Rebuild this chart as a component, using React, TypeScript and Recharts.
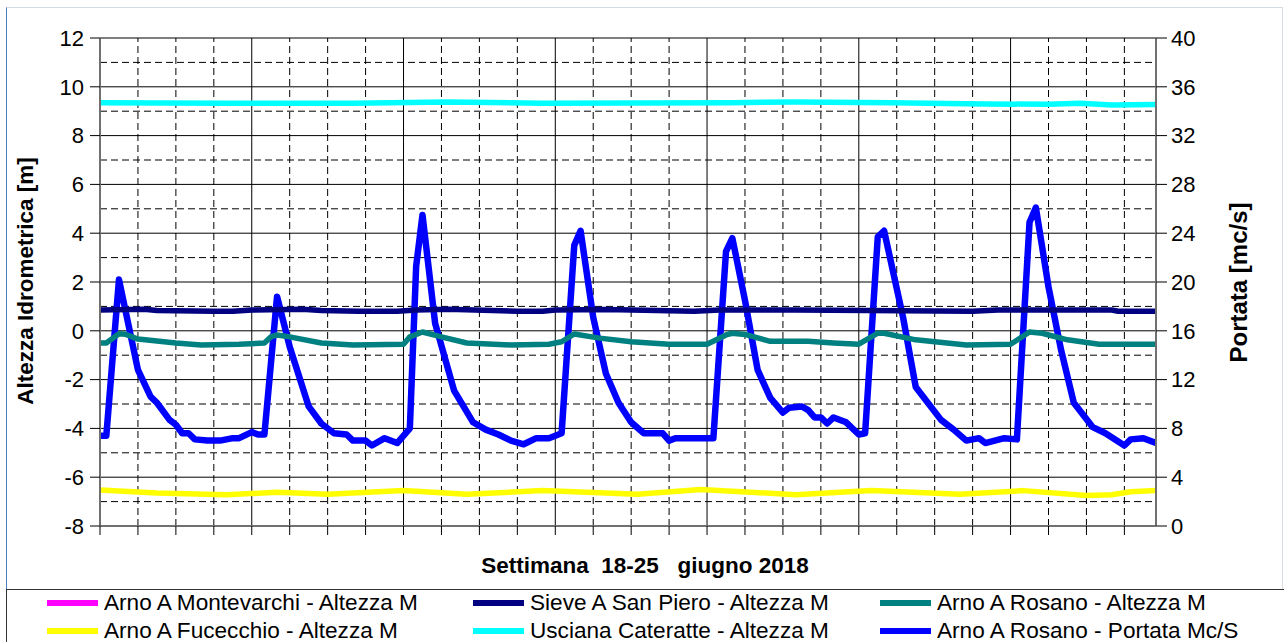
import React from 'react';
import { ComposedChart, Line, XAxis, YAxis, ReferenceLine } from 'recharts';

// ---- Data (hour of the week 0..167) ----
const portataHours = [0, 1, 3, 6, 8, 9, 11, 12, 13, 14, 15, 17, 19, 21, 22, 24, 25, 26, 28, 30, 33, 35, 37, 39, 40, 42, 43, 45, 47, 49, 50, 51, 53, 56, 59, 61, 63, 65, 67, 69, 71, 73, 75, 76, 78, 80, 82, 84, 86, 89, 90, 91, 97, 99, 100, 102, 104, 106, 108, 109, 111, 112, 113, 114, 115, 116, 118, 120, 121, 123, 124, 127, 129, 133, 135, 137, 139, 140, 143, 145, 147, 148, 150, 152, 154, 157, 159, 162, 163, 165, 167];
const portataValues = [7.4, 7.4, 20.2, 12.8, 10.6, 10.1, 8.7, 8.3, 7.6, 7.6, 7.1, 7.0, 7.0, 7.2, 7.2, 7.7, 7.5, 7.5, 18.8, 14.7, 9.8, 8.4, 7.6, 7.5, 7.0, 7.0, 6.6, 7.2, 6.8, 8.0, 21.3, 25.5, 16.6, 11.1, 8.5, 7.9, 7.5, 7.0, 6.7, 7.2, 7.2, 7.6, 23.0, 24.2, 17.1, 12.5, 10.1, 8.5, 7.6, 7.6, 7.0, 7.2, 7.2, 22.5, 23.6, 18.5, 12.8, 10.5, 9.3, 9.7, 9.8, 9.5, 8.9, 8.9, 8.4, 8.9, 8.5, 7.5, 7.6, 23.7, 24.2, 17.1, 11.4, 8.7, 7.9, 7.0, 7.2, 6.8, 7.2, 7.1, 24.9, 26.1, 19.6, 14.4, 10.1, 8.1, 7.6, 6.6, 7.1, 7.2, 6.8];

const rosanoHours = [0, 1, 3, 4, 6, 12, 16, 22, 26, 27, 28, 30, 35, 40, 48, 49, 51, 54, 58, 65, 71, 73, 75, 79, 84, 90, 96, 99, 100, 102, 106, 112, 116, 120, 123, 124, 129, 137, 144, 147, 149, 153, 158, 167];
const rosanoValues = [-0.5, -0.5, -0.12, -0.14, -0.34, -0.5, -0.58, -0.55, -0.5, -0.25, -0.17, -0.25, -0.5, -0.58, -0.55, -0.25, -0.05, -0.25, -0.5, -0.58, -0.55, -0.45, -0.13, -0.3, -0.45, -0.55, -0.55, -0.17, -0.1, -0.15, -0.43, -0.43, -0.5, -0.55, -0.1, -0.1, -0.37, -0.58, -0.55, -0.05, -0.1, -0.37, -0.55, -0.55];

const sieveHours = [0, 7, 9, 18, 21, 24, 32, 35, 41, 47, 50, 55, 66, 70, 72, 80, 94, 98, 110, 138, 142, 160, 161, 167];
const sieveValues = [0.85, 0.88, 0.83, 0.8, 0.8, 0.85, 0.88, 0.83, 0.8, 0.8, 0.85, 0.88, 0.8, 0.8, 0.85, 0.87, 0.8, 0.85, 0.85, 0.8, 0.85, 0.85, 0.8, 0.8];

const uscianaHours = [0, 20, 40, 55, 70, 100, 110, 125, 140, 150, 155, 160, 167];
const uscianaValues = [9.35, 9.33, 9.33, 9.38, 9.33, 9.35, 9.38, 9.35, 9.3, 9.28, 9.33, 9.25, 9.27];

const fucecchioHours = [0, 9, 20, 28, 36, 48, 58, 70, 85, 95, 110, 122, 136, 146, 156, 160, 163, 167];
const fucecchioValues = [-6.52, -6.65, -6.72, -6.62, -6.7, -6.55, -6.7, -6.55, -6.7, -6.5, -6.72, -6.55, -6.7, -6.55, -6.75, -6.72, -6.6, -6.55];

const leftTicks = [-8, -6, -4, -2, 0, 2, 4, 6, 8, 10, 12];
const leftMinor = [-7, -5, -3, -1, 1, 3, 5, 7, 9, 11];
const rightTicks = [0, 4, 8, 12, 16, 20, 24, 28, 32, 36, 40];
const hourTicks = [0, 6, 12, 18, 24, 30, 36, 42, 48, 54, 60, 66, 72, 78, 84, 90, 96, 102, 108, 114, 120, 126, 132, 138, 144, 150, 156, 162];
const dayLines = [24, 48, 72, 96, 120, 144];

const legendItems = [
  { name: 'Arno A Montevarchi - Altezza M', color: '#FF00FF' },
  { name: 'Sieve A San Piero - Altezza M', color: '#000080' },
  { name: 'Arno A Rosano - Altezza M', color: '#008080' },
  { name: 'Arno A Fucecchio - Altezza M', color: '#FFFF00' },
  { name: 'Usciana Cateratte - Altezza M', color: '#00FFFF' },
  { name: 'Arno A Rosano - Portata Mc/S', color: '#0000FF' },
];

const toRows = (hours: number[], vals: number[]) => hours.map((h, i) => ({ h, v: vals[i] }));

const portataData = toRows(portataHours, portataValues);
const rosanoData = toRows(rosanoHours, rosanoValues);
const sieveData = toRows(sieveHours, sieveValues);
const uscianaData = toRows(uscianaHours, uscianaValues);
const fucecchioData = toRows(fucecchioHours, fucecchioValues);

const FONT = '"Liberation Sans", Arial, sans-serif';

export default function App() {
  const minorHours = hourTicks.filter((h) => h > 0 && h % 24 !== 0);
  const legendCols = [
    { sw: 47, tx: 104 },
    { sw: 473, tx: 530 },
    { sw: 880, tx: 937 },
  ];
  const legendRows = [603, 631];
  const tickStyle = { fill: '#000', fontSize: 22, fontFamily: FONT };
  return (
    <div style={{ position: 'absolute', left: 0, top: 0, width: 1284, height: 642, background: '#fff', overflow: 'hidden', fontFamily: FONT }}>
      <div style={{ position: 'absolute', left: 6, top: 7, width: 1275, height: 700, borderTop: '1px solid #d5dbe3', borderRight: '1px solid #d5dbe3', borderLeft: '1.5px solid #4a7ebb' }} />
      <ComposedChart width={1284} height={642} margin={{ top: 38, right: 0, left: 0, bottom: 86 }}>
        {leftMinor.map((v) => (
          <ReferenceLine key={'hm' + v} yAxisId="left" y={v} stroke="#000" strokeWidth={1} strokeDasharray="7 4" />
        ))}
        {minorHours.map((h) => (
          <ReferenceLine key={'vm' + h} yAxisId="left" x={h} stroke="#000" strokeWidth={1} strokeDasharray="7 4" />
        ))}
        {leftTicks.filter((v) => v > -8).map((v) => (
          <ReferenceLine key={'hs' + v} yAxisId="left" y={v} stroke="#000" strokeWidth={1} />
        ))}
        {dayLines.map((h) => (
          <ReferenceLine key={'vs' + h} yAxisId="left" x={h} stroke="#000" strokeWidth={1} />
        ))}
        <XAxis
          dataKey="h"
          type="number"
          domain={[0, 167]}
          ticks={hourTicks}
          interval={0}
          height={30}
          tickSize={9}
          tickFormatter={() => ''}
          axisLine={{ stroke: '#707070', strokeWidth: 2 }}
          tickLine={{ stroke: '#000' }}
          allowDataOverflow
        />
        <YAxis
          yAxisId="left"
          type="number"
          domain={[-8, 12]}
          ticks={leftTicks}
          interval={0}
          width={100}
          tickSize={10}
          tickMargin={6}
          tick={tickStyle}
          axisLine={{ stroke: '#707070', strokeWidth: 2 }}
          tickLine={{ stroke: '#000' }}
          allowDataOverflow
        />
        <YAxis
          yAxisId="right"
          orientation="right"
          type="number"
          domain={[0, 40]}
          ticks={rightTicks}
          interval={0}
          width={128}
          tickSize={11}
          tickMargin={4}
          tick={tickStyle}
          axisLine={{ stroke: '#707070', strokeWidth: 2 }}
          tickLine={{ stroke: '#000' }}
          allowDataOverflow
        />
        <Line data={portataData} yAxisId="right" dataKey="v" type="linear" stroke="#0000FF" strokeWidth={6.5} dot={false} activeDot={false} isAnimationActive={false} strokeLinejoin="round" />
        <Line data={sieveData} yAxisId="left" dataKey="v" type="linear" stroke="#000080" strokeWidth={5.5} dot={false} activeDot={false} isAnimationActive={false} strokeLinejoin="round" />
        <Line data={rosanoData} yAxisId="left" dataKey="v" type="linear" stroke="#008080" strokeWidth={5.5} dot={false} activeDot={false} isAnimationActive={false} strokeLinejoin="round" />
        <Line data={fucecchioData} yAxisId="left" dataKey="v" type="linear" stroke="#FFFF00" strokeWidth={5.5} dot={false} activeDot={false} isAnimationActive={false} strokeLinejoin="round" />
        <Line data={uscianaData} yAxisId="left" dataKey="v" type="linear" stroke="#00FFFF" strokeWidth={5.5} dot={false} activeDot={false} isAnimationActive={false} strokeLinejoin="round" />
      </ComposedChart>
      <svg width={1284} height={642} style={{ position: 'absolute', left: 0, top: 0, pointerEvents: 'none' }}>
        <text x={33} y={281} transform="rotate(-90 33 281)" textAnchor="middle" fontFamily={FONT} fontWeight="bold" fontSize={22.5} fill="#000">
          Altezza Idrometrica [m]
        </text>
        <text x={1247} y={282.5} transform="rotate(-90 1247 282.5)" textAnchor="middle" fontFamily={FONT} fontWeight="bold" fontSize={24} fill="#000">
          Portata [mc/s]
        </text>
        <text x={645} y={573} textAnchor="middle" fontFamily={FONT} fontWeight="bold" fontSize={22.5} fill="#000" style={{ whiteSpace: 'pre' }}>
          {'Settimana  18-25   giugno 2018'}
        </text>
      </svg>
      <div style={{ position: 'absolute', left: 6, top: 589, width: 1280, height: 60, borderTop: '1.5px solid #333', borderLeft: '1.5px solid #333', background: '#fff' }} />
      {legendItems.map((it, i) => {
        const col = legendCols[i % 3];
        const y = legendRows[Math.floor(i / 3)];
        return (
          <React.Fragment key={it.name}>
            <div style={{ position: 'absolute', left: col.sw, top: y - 3, width: 51, height: 6, background: it.color }} />
            <div style={{ position: 'absolute', left: col.tx, top: y - 14, height: 28, lineHeight: '28px', fontSize: 22.6, fontFamily: FONT, color: '#000', whiteSpace: 'nowrap' }}>
              {it.name}
            </div>
          </React.Fragment>
        );
      })}
    </div>
  );
}
